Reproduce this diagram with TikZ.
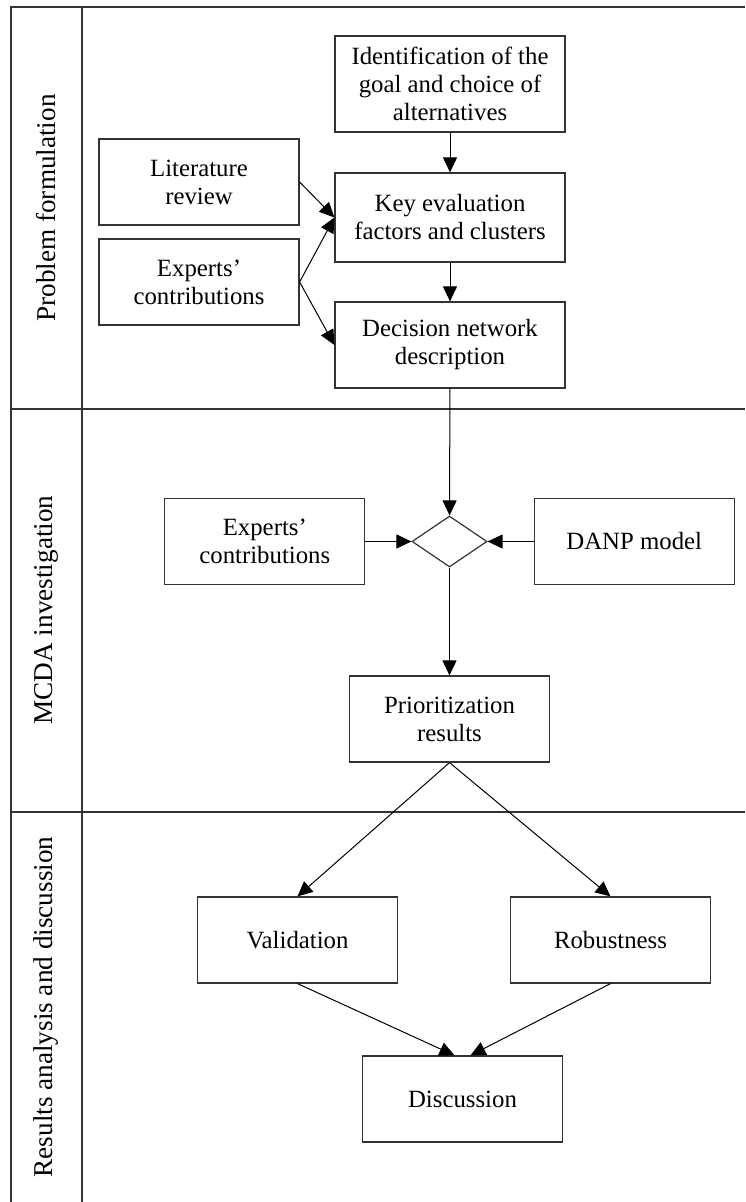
\documentclass[tikz,border=0pt]{standalone}
\usepackage{fontspec}
\setmainfont{Liberation Serif}
\usepackage{tikz}
\usetikzlibrary{arrows.meta,shapes.geometric,positioning}

\begin{document}
\begin{tikzpicture}[->,>={Triangle[length=7.5pt,width=7pt]},x=0.5pt,y=-0.5pt,
                    line width=0.5pt]
  \tikzstyle{block}=[rectangle,draw=black!80,fill=white,text=black,align=center,
                     minimum width=100pt,minimum height=43pt,inner sep=2pt,
                     line width=0.6pt,font=\fontsize{12.4}{14}\selectfont]
  \tikzstyle{lane}=[rotate=90,text=black,font=\fontsize{13.6}{16}\selectfont]
  \tikzstyle{frame}=[-,draw=black!80,line width=1pt]

  \useasboundingbox (0,0) rectangle (745,1202);

  % lanes
  \draw[frame] (10.5,1202) -- (10.5,7.5) -- (745,7.5);
  \draw[frame] (82,7.5) -- (82,1202);
  \draw[frame] (10.5,409) -- (745,409);
  \draw[frame] (10.5,812) -- (745,812);
  \node[lane] (lane1) at (46,208)  {Problem formulation};
  \node[lane] (lane2) at (46,610)  {MCDA investigation};
  \node[lane] (lane3) at (46,1007) {Results analysis and discussion};

  \node[block,minimum width=115pt,minimum height=48pt] (ident) at (450,84)
       {Identification of the\\goal and choice of\\alternatives};
  \node[block] (lit)  at (199,182) {Literature\\review};
  \node[block,minimum width=115pt,minimum height=44.5pt] (key) at (450,217.5)
       {Key evaluation\\factors and clusters};
  \node[block] (exp1) at (199,282) {Experts'\\contributions};
  \node[block,minimum width=115pt] (dec) at (450,345) {Decision network\\description};

  \node[diamond,draw=black!80,line width=0.6pt,minimum width=37.5pt,
        minimum height=25.5pt,inner sep=0pt] (mix) at (449.5,541.5) {};
  \node[block] (exp2) [left=23pt of mix]  {Experts'\\contributions};
  \node[block] (danp) [right=23pt of mix] {DANP model};
  \node[block] (prio) at (449.5,719) {Prioritization\\results};

  \node[block] (val)  at (297.5,940) {Validation};
  \node[block] (rob)  at (610.5,940) {Robustness};
  \node[block] (disc) at (462.5,1099) {Discussion};

  \path
  (ident) edge (key)
  (lit.east) edge (key.west)
  (exp1.east) edge (key.west)
  (exp1.east) edge (dec.west)
  (key) edge (dec)
  (dec) edge (mix)
  (exp2) edge (mix)
  (danp) edge (mix)
  (mix) edge (prio)
  (prio.south) edge (val.north)
  (prio.south) edge (rob.north)
  (val.south) edge ([xshift=-4pt]disc.north)
  (rob.south) edge ([xshift=4pt]disc.north);
\end{tikzpicture}
\end{document}
